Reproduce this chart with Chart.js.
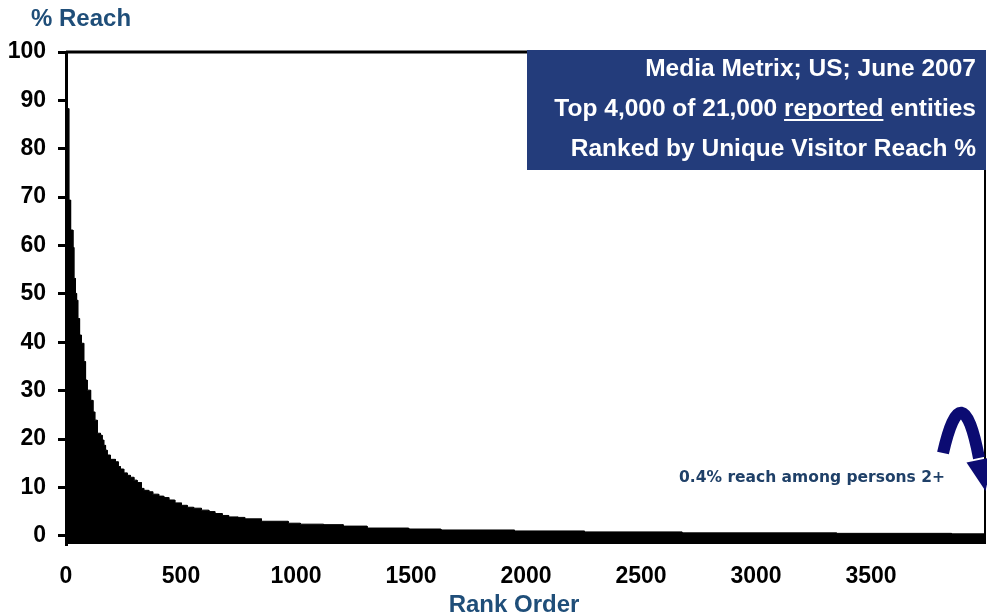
<!DOCTYPE html>
<html>
<head>
<meta charset="utf-8">
<script src="https://cdn.jsdelivr.net/npm/chart.js@4.4.0/dist/chart.umd.min.js"></script>
<style>
  html, body { margin: 0; padding: 0; background: #fff; }
  #wrap { width: 987px; height: 615px; position: relative; }
</style>
</head>
<body>
<div id="wrap"><canvas id="c" width="987" height="615"></canvas></div>
<script>
// Unique-visitor reach (%) by rank order; each value holds from its rank until the next listed rank
const rankOrder = [0, 12, 20, 30, 34, 41, 46, 51, 59, 67,
  77, 85, 92, 107, 117, 125, 136, 150, 157, 164,
  172, 179, 193, 215, 227, 237, 251, 266, 280, 295,
  309, 328, 338, 360, 377, 403, 425, 447, 473, 502,
  527, 555, 589, 621, 647, 679, 707, 748, 777, 850,
  966, 1019, 1120, 1205, 1309, 1490, 1630, 1950, 2254, 2678,
  3350, 3850, 4000];
const reachPct = [88.3, 69.4, 63.2, 59.6, 53.2, 50.1, 48.7, 44.9, 41.5, 39.8,
  36.0, 32.2, 30.1, 28.0, 25.6, 23.9, 21.2, 20.8, 19.8, 18.7,
  17.7, 16.7, 15.8, 15.3, 14.3, 13.8, 13.0, 12.5, 12.1, 11.5,
  11.0, 9.8, 9.4, 9.1, 8.6, 8.2, 7.9, 7.4, 6.8, 6.3,
  5.9, 5.7, 5.3, 5.0, 4.6, 4.2, 3.9, 3.8, 3.5, 3.0,
  2.6, 2.4, 2.3, 2.0, 1.6, 1.4, 1.2, 1.0, 0.8, 0.6,
  0.5, 0.4, 0.4];

const yTicks = [0, 10, 20, 30, 40, 50, 60, 70, 80, 90, 100];
const xTicks = [0, 500, 1000, 1500, 2000, 2500, 3000, 3500];

const yTitle = '% Reach';
const xTitle = 'Rank Order';
const infoLines = ['Media Metrix; US; June 2007', 'Top 4,000 of 21,000 reported entities', 'Ranked by Unique Visitor Reach %'];
const noteText = '0.4% reach among persons 2+';

const SANS = '"Liberation Sans", Arial, sans-serif';
const tickFont = { family: SANS, size: 23, weight: 'bold' };

// Each reach value is held flat until the next rank, giving a single stepped outline
const stepPoints = [];
rankOrder.forEach((r, i) => {
  if (i > 0) stepPoints.push({ x: r, y: reachPct[i - 1] });
  stepPoints.push({ x: r, y: reachPct[i] });
});

// Frame, info box, axis titles and the curved arrow note
const decor = {
  id: 'decor',
  afterDraw(chart) {
    const { ctx, chartArea: a } = chart;
    ctx.save();

    // top and right edges of the plot frame
    ctx.strokeStyle = '#000';
    ctx.lineWidth = 3;
    ctx.beginPath(); ctx.moveTo(a.left, a.top); ctx.lineTo(a.right, a.top); ctx.stroke();
    ctx.lineWidth = 2;
    ctx.beginPath(); ctx.moveTo(a.right - 1, a.top); ctx.lineTo(a.right - 1, a.bottom); ctx.stroke();

    // source box
    ctx.fillStyle = '#233C7B';
    ctx.fillRect(527, 50, 459, 120);
    ctx.fillStyle = '#fff';
    ctx.font = 'bold 24.5px ' + SANS;
    ctx.textAlign = 'right';
    ctx.textBaseline = 'alphabetic';
    const rx = 976;
    const baselines = [76, 116, 156];
    infoLines.forEach((t, i) => ctx.fillText(t, rx, baselines[i]));
    // underline the word "reported"
    const line2 = infoLines[1];
    const idx = line2.indexOf('reported');
    const start = rx - ctx.measureText(line2).width;
    const u0 = start + ctx.measureText(line2.slice(0, idx)).width;
    const u1 = u0 + ctx.measureText('reported').width;
    ctx.strokeStyle = '#fff';
    ctx.lineWidth = 2;
    ctx.beginPath(); ctx.moveTo(u0, 120); ctx.lineTo(u1, 120); ctx.stroke();

    // axis titles
    ctx.fillStyle = '#1F4E79';
    ctx.font = 'bold 24px ' + SANS;
    ctx.textAlign = 'left';
    ctx.fillText(yTitle, 31, 26);
    ctx.textAlign = 'center';
    ctx.fillText(xTitle, 514, 612);

    // note text
    ctx.fillStyle = '#1F4068';
    ctx.font = 'bold 15.5px "DejaVu Sans", Verdana, sans-serif';
    ctx.textAlign = 'left';
    ctx.fillText(noteText, 679, 481.5);

    // curved arrow pointing down to the tail of the curve
    ctx.strokeStyle = '#0B0B72';
    ctx.lineWidth = 12;
    ctx.lineCap = 'butt';
    ctx.beginPath();
    ctx.moveTo(943, 453);
    ctx.quadraticCurveTo(962, 370, 979, 458);
    ctx.stroke();
    ctx.fillStyle = '#0B0B72';
    ctx.beginPath();
    ctx.moveTo(966.5, 462.5);
    ctx.lineTo(993, 457);
    ctx.lineTo(985.5, 491);
    ctx.closePath();
    ctx.fill();

    ctx.restore();
  }
};

new Chart(document.getElementById('c').getContext('2d'), {
  type: 'line',
  data: {
    datasets: [{
      data: stepPoints,
      fill: 'start',
      backgroundColor: '#000',
      borderColor: '#000',
      borderWidth: 1,
      pointRadius: 0,
      tension: 0
    }]
  },
  options: {
    responsive: false,
    animation: false,
    devicePixelRatio: 1,
    layout: { padding: { top: 52, right: 1, bottom: 0, left: 0 } },
    plugins: { legend: { display: false }, tooltip: { enabled: false } },
    scales: {
      x: {
        type: 'linear',
        min: 0,
        max: 4000,
        grid: { display: false },
        border: { display: false },
        afterBuildTicks: s => { s.ticks = xTicks.map(v => ({ value: v })); },
        afterFit: s => { s.height = 71; },
        ticks: {
          font: tickFont, color: '#000', padding: 11,
          maxRotation: 0, autoSkip: false,
          callback: v => String(v)
        }
      },
      y: {
        min: -1.7,
        max: 100,
        afterBuildTicks: s => { s.ticks = yTicks.map(v => ({ value: v })); },
        afterFit: s => { s.width = 66; },
        grid: { drawOnChartArea: false, drawTicks: true, tickLength: 8, lineWidth: 3, color: '#000' },
        border: { display: true, width: 3, color: '#000' },
        ticks: { font: tickFont, color: '#000', padding: 12, callback: v => String(v) }
      }
    }
  },
  plugins: [decor]
});
</script>
</body>
</html>
